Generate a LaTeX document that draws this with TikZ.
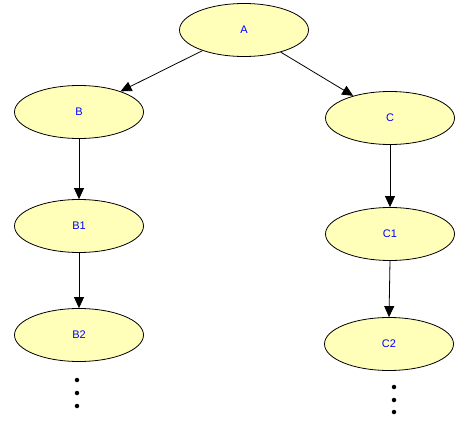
\documentclass[tikz,border=0pt]{standalone}
\usepackage{fontspec}
\setmainfont{Liberation Sans}
\usetikzlibrary{shapes.geometric,arrows.meta}
\definecolor{ellfill}{RGB}{255,255,185}
\definecolor{txtblue}{RGB}{0,0,255}
\begin{document}
\begin{tikzpicture}[x=1pt,y=-1pt,
  ell/.style={ellipse,draw=black,line width=0.8pt,fill=ellfill,minimum width=129pt,minimum height=53pt,inner sep=0pt,
    font=\fontsize{11pt}{13pt}\selectfont,text=txtblue},
  conn/.style={draw=black,line width=0.8pt,-{Triangle[length=11pt,width=10pt]}},
  dotnode/.style={circle,fill=black,inner sep=0pt,minimum size=4.5pt}]
\useasboundingbox (0,0) rectangle (465,422);
\node[ell] (A) at (244,30) {A};
\node[ell] (B) at (79,112) {B};
\node[ell] (B1) at (79,226) {B1};
\node[ell] (B2) at (79,335) {B2};
\node[ell] (C) at (390,118) {C};
\node[ell] (C1) at (390,234) {C1};
\node[ell] (C2) at (389,344) {C2};
\node[dotnode] (bd1) at (77,380) {};
\node[dotnode] (bd2) at (77,393) {};
\node[dotnode] (bd3) at (77,406) {};
\node[dotnode] (cd1) at (394,387) {};
\node[dotnode] (cd2) at (394,400) {};
\node[dotnode] (cd3) at (394,412) {};
\draw[conn] (A) -- (B);
\draw[conn] (A) -- (C);
\draw[conn] (B) -- (B1);
\draw[conn] (B1) -- (B2);
\draw[conn] (C) -- (C1);
\draw[conn] (C1.south) -- (C2.north);
\end{tikzpicture}
\end{document}
